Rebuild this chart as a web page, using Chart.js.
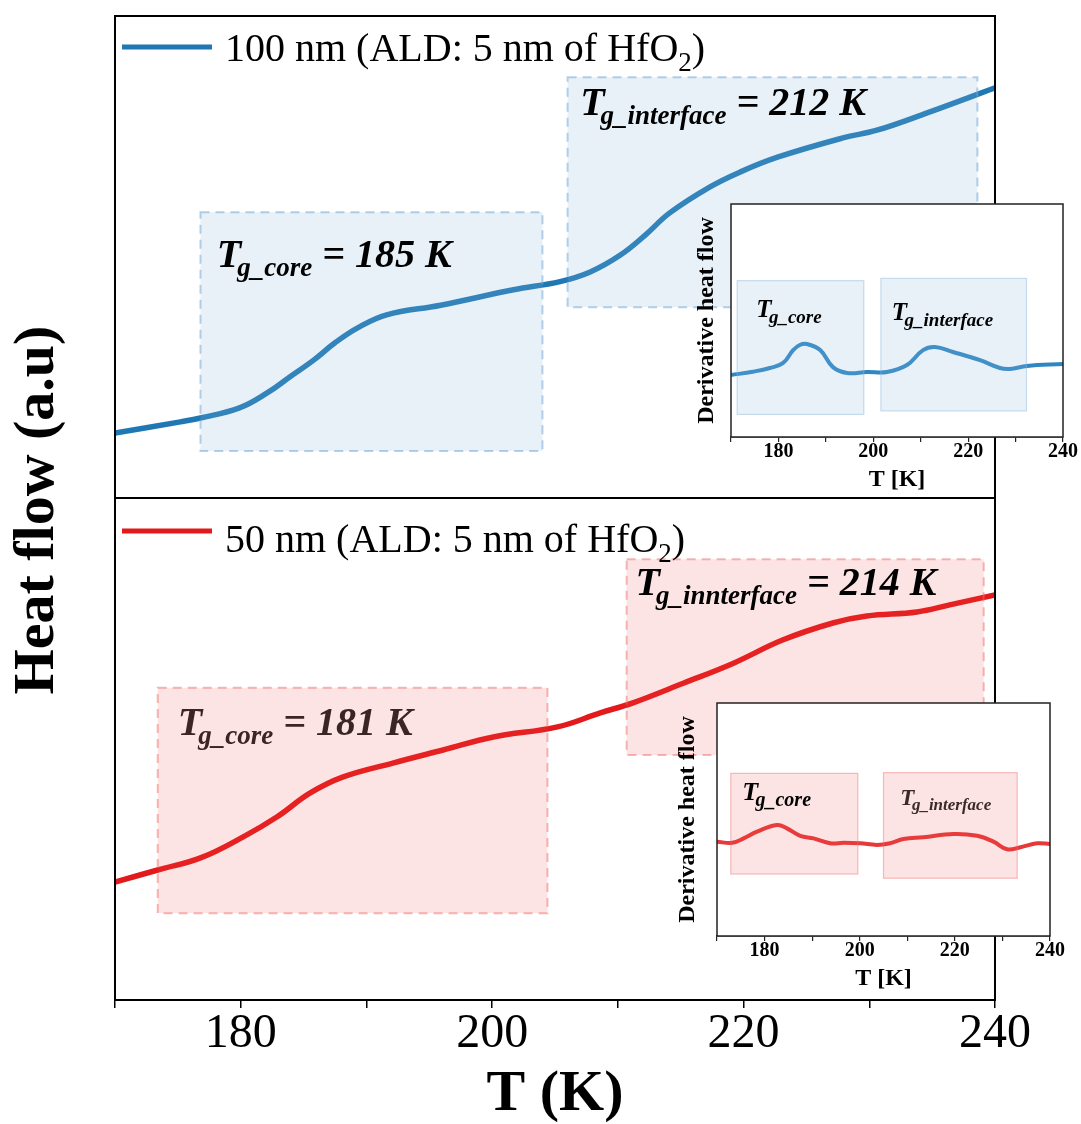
<!DOCTYPE html>
<html>
<head>
<meta charset="utf-8">
<script src="https://cdn.jsdelivr.net/npm/chart.js@4.4.1/dist/chart.umd.min.js"></script>
<style>
  body { margin: 0; background: #fff; overflow: hidden; }
  #wrap { position: relative; width: 1081px; height: 1124px; }
  canvas { position: absolute; }
</style>
</head>
<body>
<div id="wrap">
  <canvas id="main" width="1081" height="1124" style="left:0;top:0"></canvas>
  <canvas id="insetTop" width="401" height="300" style="left:680px;top:196px"></canvas>
  <canvas id="insetBot" width="410" height="300" style="left:666px;top:695px"></canvas>
</div>
<script>
const FONT = '"Liberation Serif", "Times New Roman", serif';
const BLUE = '#1f77b4';
const RED = '#e31a1c';

// heat flow curves (T in K, heat flow in a.u.)
const tempTop = [170, 175.2, 176.8, 179.9, 182.1, 183.9, 185.8, 187.5, 189.3, 191.6, 195.9, 201.7, 205.4, 207.8, 210.2, 212.2, 214.1, 217.3, 219.7, 222.7, 227.9, 230.6, 234.6, 240];
const flowTop = [13.5, 15.8, 16.6, 18.7, 21.8, 25.1, 28.6, 32.2, 35.3, 38.0, 40.0, 43.2, 44.9, 46.9, 50.4, 54.6, 59.1, 64.5, 67.6, 70.7, 74.7, 76.3, 79.9, 85.1];

const tempBot = [170, 173.4, 176.8, 180.2, 182.9, 185.5, 188.1, 192.1, 196.1, 200.1, 205.2, 208.6, 211.2, 215.2, 219.2, 223.1, 227.1, 229.8, 233.8, 236.4, 240];
const flowBot = [23.5, 25.9, 28.3, 32.5, 36.5, 41.2, 44.4, 47.2, 49.8, 52.4, 54.4, 57.2, 59.2, 63.1, 67.1, 71.7, 75.1, 76.5, 77.3, 78.7, 80.7];

// derivative curves in the insets
const tempInsetTop = [170, 174.6, 178.2, 181.0, 183.1, 184.5, 186.0, 188.8, 191.5, 194.5, 198.7, 202.9, 207.1, 210.5, 213.0, 216.8, 222.5, 226.7, 228.8, 232.4, 240];
const dhfInsetTop = [26.6, 28.0, 29.6, 31.8, 37.3, 39.5, 39.9, 37.3, 30.0, 27.5, 27.9, 27.9, 30.9, 37.3, 38.6, 36.5, 33.0, 29.6, 29.2, 30.5, 31.3];

const tempInsetBot = [170, 173.2, 175.6, 178.4, 182.6, 184.7, 187.5, 190.3, 193.8, 196.6, 200.1, 203.6, 206.4, 209.2, 213.4, 219.7, 224.7, 228.1, 231.0, 233.8, 237.3, 240];
const dhfInsetBot = [40.5, 40.0, 41.9, 44.8, 47.6, 46.2, 43.0, 41.9, 39.8, 40.0, 39.8, 39.1, 39.8, 41.6, 42.4, 43.8, 43.0, 40.5, 37.2, 38.1, 39.8, 39.5];

const seriesLabels = ['100 nm (ALD: 5 nm of HfO', '50 nm (ALD: 5 nm of HfO'];
const xLabelled = [180, 200, 220, 240];

// shaded Tg ranges: [T start, T end, low, high]
const rangesTop = [[176.8, 204.0, 9.75, 59.3], [206.0, 238.6, 39.6, 87.3]];
const rangesBot = [[173.4, 204.4, 17.3, 62.2], [210.7, 239.1, 48.8, 87.8]];
const rangesInsetTop = [[171.3, 198.0, 9.7, 67.1], [201.6, 232.3, 11.2, 68.1]];
const rangesInsetBot = [[172.9, 199.6, 26.6, 69.8], [205.0, 233.1, 24.8, 70.1]];

const pts = (xs, ys) => xs.map((x, i) => ({x: x, y: ys[i]}));

function drawTg(ctx, x, y, sub, rest, big, small, color) {
  ctx.save();
  ctx.fillStyle = color;
  ctx.textAlign = 'left';
  ctx.textBaseline = 'alphabetic';
  ctx.font = 'italic bold ' + big + 'px ' + FONT;
  ctx.fillText('T', x, y);
  let cx = x + ctx.measureText('T').width - big * 0.1;
  ctx.font = 'italic bold ' + small + 'px ' + FONT;
  ctx.fillText(sub, cx, y + big * 0.22);
  cx += ctx.measureText(sub).width;
  if (rest) {
    ctx.font = 'italic bold ' + big + 'px ' + FONT;
    ctx.fillText(rest, cx, y);
  }
  ctx.restore();
}

function drawRanges(ctx, xs, ys, ranges, fill, edge, dashed) {
  ranges.forEach(r => {
    const x1 = xs.getPixelForValue(r[0]), x2 = xs.getPixelForValue(r[1]);
    const y1 = ys.getPixelForValue(r[3]), y2 = ys.getPixelForValue(r[2]);
    ctx.save();
    ctx.fillStyle = fill;
    ctx.fillRect(x1, y1, x2 - x1, y2 - y1);
    if (dashed) ctx.setLineDash([9, 6]);
    ctx.strokeStyle = edge;
    ctx.lineWidth = dashed ? 2 : 1.2;
    ctx.strokeRect(x1, y1, x2 - x1, y2 - y1);
    ctx.restore();
  });
}

const panels = [
  { axis: 'yTop', color: BLUE, label: seriesLabels[0], ranges: rangesTop,
    fill: 'rgba(140,185,220,0.2)', edge: 'rgba(120,170,215,0.55)', legendY: [31, 45],
    tg: [{at: [178.1, 47.9], sub: 'g_core', rest: ' = 185 K', color: '#000'},
         {at: [207.0, 79.5], sub: 'g_interface', rest: ' = 212 K', color: '#000'}] },
  { axis: 'yBot', color: RED, label: seriesLabels[1], ranges: rangesBot,
    fill: 'rgba(242,75,75,0.15)', edge: 'rgba(240,110,110,0.5)', legendY: [33, 54],
    tg: [{at: [175.0, 52.8], sub: 'g_core', rest: ' = 181 K', color: '#3a2424'},
         {at: [211.4, 80.7], sub: 'g_innterface', rest: ' = 214 K', color: '#000'}] }
];

const mainDecor = {
  id: 'mainDecor',
  afterDatasetsDraw(chart) {
    const ctx = chart.ctx, xs = chart.scales.x, area = chart.chartArea;
    panels.forEach(p => {
      const ys = chart.scales[p.axis];
      drawRanges(ctx, xs, ys, p.ranges, p.fill, p.edge, true);
      p.tg.forEach(l => drawTg(ctx, xs.getPixelForValue(l.at[0]), ys.getPixelForValue(l.at[1]), l.sub, l.rest, 40, 27, l.color));

      // legend inside the panel
      ctx.save();
      ctx.strokeStyle = p.color;
      ctx.lineWidth = 5;
      ctx.beginPath();
      ctx.moveTo(area.left + 7, ys.top + p.legendY[0]);
      ctx.lineTo(area.left + 97, ys.top + p.legendY[0]);
      ctx.stroke();
      ctx.fillStyle = '#000';
      ctx.textBaseline = 'alphabetic';
      ctx.font = '40px ' + FONT;
      let tx = area.left + 110;
      const ty = ys.top + p.legendY[1];
      ctx.fillText(p.label, tx, ty);
      tx += ctx.measureText(p.label).width;
      ctx.font = '27px ' + FONT;
      ctx.fillText('2', tx, ty + 10);
      tx += ctx.measureText('2').width;
      ctx.font = '40px ' + FONT;
      ctx.fillText(')', tx, ty);

      // panel frame
      ctx.strokeStyle = '#000';
      ctx.lineWidth = 2;
      ctx.strokeRect(area.left, ys.top, area.right - area.left, ys.bottom - ys.top);
      ctx.restore();
    });
  },
  afterDraw(chart) {
    const ctx = chart.ctx;
    ctx.save();
    ctx.translate(38, 510);
    ctx.rotate(-Math.PI / 2);
    ctx.font = 'bold 58px ' + FONT;
    ctx.fillStyle = '#000';
    ctx.textAlign = 'center';
    ctx.textBaseline = 'middle';
    ctx.fillText('Heat flow (a.u)', 0, 0);
    ctx.restore();
  }
};

new Chart(document.getElementById('main'), {
  type: 'line',
  data: {
    datasets: [
      { label: seriesLabels[0], data: pts(tempTop, flowTop), yAxisID: 'yTop', borderColor: BLUE, borderWidth: 5.5,
        pointRadius: 0, tension: 0.4 },
      { label: seriesLabels[1], data: pts(tempBot, flowBot), yAxisID: 'yBot', borderColor: RED, borderWidth: 5.5,
        pointRadius: 0, tension: 0.4 }
    ]
  },
  options: {
    responsive: false,
    animation: false,
    devicePixelRatio: 1,
    layout: { padding: { left: 115, right: 86, top: 16, bottom: 0 } },
    plugins: { legend: { display: false }, tooltip: { enabled: false } },
    scales: {
      x: {
        type: 'linear', position: 'bottom', min: 170, max: 240,
        ticks: { stepSize: 10, autoSkip: false, maxRotation: 0, padding: 2, color: '#000',
          font: { family: FONT, size: 48, lineHeight: 1 },
          callback: v => xLabelled.includes(v) ? String(v) : '' },
        grid: { drawOnChartArea: false, drawTicks: true, tickLength: 8, color: '#000', lineWidth: 1.5 },
        border: { display: true, color: '#000', width: 2 },
        title: { display: true, text: 'T (K)', color: '#000', padding: 0,
          font: { family: FONT, size: 58, weight: 'bold', lineHeight: 1 } },
        afterFit: s => { s.height = 124; }
      },
      yTop: { type: 'linear', position: 'left', stack: 'hf', stackWeight: 482, weight: 2, min: 0, max: 100, display: false },
      yBot: { type: 'linear', position: 'left', stack: 'hf', stackWeight: 502, weight: 1, min: 0, max: 100, display: false }
    }
  },
  plugins: [mainDecor]
});

const insetDecor = {
  id: 'insetDecor',
  beforeDatasetsDraw(chart) {
    const a = chart.chartArea, ctx = chart.ctx;
    ctx.save();
    ctx.fillStyle = '#fff';
    ctx.fillRect(a.left, a.top, a.right - a.left, a.bottom - a.top);
    ctx.restore();
  },
  afterDatasetsDraw(chart, args, opts) {
    const ctx = chart.ctx, a = chart.chartArea;
    const xs = chart.scales.x, ys = chart.scales.y;
    drawRanges(ctx, xs, ys, opts.ranges, opts.fill, opts.edge, false);
    opts.tg.forEach(l => drawTg(ctx, xs.getPixelForValue(l.at[0]), ys.getPixelForValue(l.at[1]), l.sub, '', l.size[0], l.size[1], l.color));
    ctx.save();
    ctx.strokeStyle = '#222';
    ctx.lineWidth = 1.5;
    ctx.strokeRect(a.left, a.top, a.right - a.left, a.bottom - a.top);
    ctx.restore();
  }
};

function makeInset(id, temps, vals, color, rightPad, titlePad, decor) {
  return new Chart(document.getElementById(id), {
    type: 'line',
    data: {
      datasets: [{ data: pts(temps, vals), borderColor: color, borderWidth: 4, pointRadius: 0, tension: 0.4 }]
    },
    options: {
      responsive: false,
      animation: false,
      devicePixelRatio: 1,
      layout: { padding: { left: 0, right: rightPad, top: 8, bottom: 0 } },
      plugins: { legend: { display: false }, tooltip: { enabled: false }, insetDecor: decor },
      scales: {
        x: {
          type: 'linear', min: 170, max: 240,
          ticks: { stepSize: 10, autoSkip: false, maxRotation: 0, padding: 0, color: '#000',
            font: { family: FONT, size: 20, weight: 'bold', lineHeight: 1 },
            callback: v => xLabelled.includes(v) ? String(v) : '' },
          grid: { drawOnChartArea: false, drawTicks: true, tickLength: 5, color: '#222', lineWidth: 1.2 },
          border: { display: true, color: '#222', width: 1.5 },
          title: { display: true, text: 'T [K]', color: '#000', padding: { top: 0, bottom: 4 },
            font: { family: FONT, size: 24, weight: 'bold', lineHeight: 1 } },
          afterFit: s => { s.height = 59; }
        },
        y: {
          type: 'linear', min: 0, max: 100,
          ticks: { display: false },
          grid: { display: false },
          border: { display: false },
          title: { display: true, text: 'Derivative heat flow', color: '#000', padding: { top: titlePad, bottom: 0 },
            font: { family: FONT, size: 24, weight: 'bold', lineHeight: 1 } },
          afterFit: s => { s.width = 51; }
        }
      }
    },
    plugins: [insetDecor]
  });
}

makeInset('insetTop', tempInsetTop, dhfInsetTop, '#2f86c2', 18, 15, {
  ranges: rangesInsetTop, fill: 'rgba(140,185,220,0.2)', edge: 'rgba(140,185,220,0.45)',
  tg: [{at: [175.3, 51.5], sub: 'g_core', size: [25, 19], color: '#000'},
       {at: [203.9, 50.2], sub: 'g_interface', size: [25, 19], color: '#000'}]
});

makeInset('insetBot', tempInsetBot, dhfInsetBot, '#e6393a', 26, 10, {
  ranges: rangesInsetBot, fill: 'rgba(242,75,75,0.15)', edge: 'rgba(240,110,110,0.45)',
  tg: [{at: [175.3, 58.4], sub: 'g_core', size: [26, 20], color: '#000'},
       {at: [208.5, 56.2], sub: 'g_interface', size: [23, 17], color: '#3a2a2a'}]
});
</script>
</body>
</html>
